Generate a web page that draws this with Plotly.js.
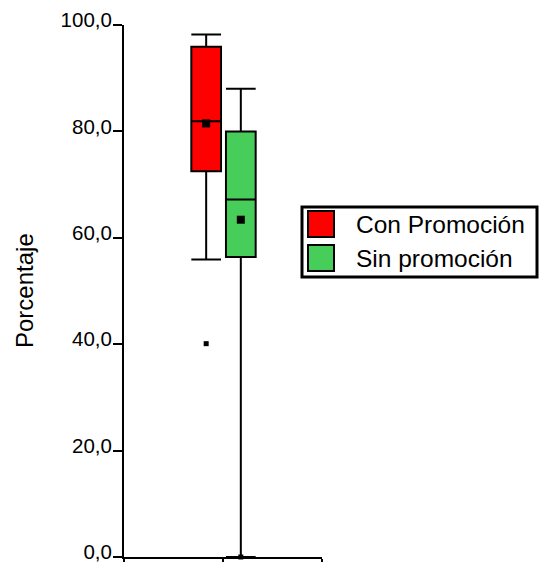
<!DOCTYPE html>
<html>
<head>
<meta charset="utf-8">
<script src="https://cdn.plot.ly/plotly-3.0.1.min.js"></script>
<style>html,body{margin:0;padding:0;background:#fff;}#chart{width:539px;height:562px;}</style>
</head>
<body>
<div id="chart"></div>
<script>
// ---- data ----
var groups = ['Con Promoción', 'Sin promoción'];
var lowerWhisker = [55.9, 0.0];
var q1Values = [72.5, 56.4];
var medianValues = [81.9, 67.2];
var q3Values = [95.9, 80.0];
var upperWhisker = [98.2, 88.0];
var meanValues = [81.5, 63.4];
var outlierValues = [[40.1], [0.0]];
var yTicks = [0, 20, 40, 60, 80, 100];

// ---- styling / layout constants ----
var boxPos = [0.83, 1.18];
var boxWidth = 0.30;
var fills = ['#ff0000', '#47cd5a'];
var FONT = 'Liberation Sans, Arial, sans-serif';

var traces = [];
groups.forEach(function (g, i) {
  traces.push({
    type: 'box',
    name: g,
    x: [boxPos[i]],
    q1: [q1Values[i]],
    median: [medianValues[i]],
    q3: [q3Values[i]],
    lowerfence: [lowerWhisker[i]],
    upperfence: [upperWhisker[i]],
    width: boxWidth,
    whiskerwidth: 1,
    boxpoints: false,
    fillcolor: fills[i],
    line: {color: '#000000', width: 2},
    showlegend: false,
    hoverinfo: 'skip'
  });
});
// means as black squares
traces.push({
  type: 'scatter', mode: 'markers',
  x: boxPos, y: meanValues,
  marker: {symbol: 'square', size: 8, color: '#000'},
  showlegend: false, hoverinfo: 'skip'
});
// outliers
groups.forEach(function (g, i) {
  traces.push({
    type: 'scatter', mode: 'markers',
    x: outlierValues[i].map(function () { return boxPos[i]; }),
    y: outlierValues[i],
    marker: {symbol: 'square', size: 5, color: '#000'},
    showlegend: false, hoverinfo: 'skip', cliponaxis: false
  });
});

// legend drawn in paper coordinates
function px2x(p) { return (p - 124) / 198; }
function px2y(p) { return (557 - p) / 532; }
var shapes = [
  {type: 'rect', xref: 'paper', yref: 'paper', x0: px2x(302), x1: px2x(537), y0: px2y(277), y1: px2y(207),
   line: {color: '#000', width: 3}, fillcolor: '#fff'},
  {type: 'rect', xref: 'paper', yref: 'paper', x0: px2x(308), x1: px2x(334), y0: px2y(237), y1: px2y(211),
   line: {color: '#000', width: 2}, fillcolor: fills[0]},
  {type: 'rect', xref: 'paper', yref: 'paper', x0: px2x(308), x1: px2x(334), y0: px2y(271), y1: px2y(245),
   line: {color: '#000', width: 2}, fillcolor: fills[1]}
];
var annotations = [
  {xref: 'paper', yref: 'paper', x: px2x(354), y: px2y(224), text: groups[0], showarrow: false,
   xanchor: 'left', yanchor: 'middle', font: {family: FONT, size: 24.5, color: '#000'}},
  {xref: 'paper', yref: 'paper', x: px2x(354), y: px2y(258), text: groups[1], showarrow: false,
   xanchor: 'left', yanchor: 'middle', font: {family: FONT, size: 24.5, color: '#000'}},
  {xref: 'paper', yref: 'paper', x: px2x(24), y: px2y(291), text: 'Porcentaje', showarrow: false,
   textangle: -90, xanchor: 'center', yanchor: 'middle', font: {family: FONT, size: 24, color: '#000'}}
];

var layout = {
  width: 539, height: 562,
  margin: {l: 124, r: 217, t: 25, b: 5, pad: 0},
  paper_bgcolor: '#fff', plot_bgcolor: '#fff',
  separators: ',.',
  showlegend: false,
  font: {family: FONT, size: 21, color: '#000'},
  xaxis: {
    range: [0, 2], tickvals: [0, 1, 2], ticktext: ['', '', ''],
    ticks: 'outside', ticklen: 7, tickwidth: 2, tickcolor: '#000',
    showline: true, linewidth: 2, linecolor: '#000',
    showgrid: false, zeroline: false, fixedrange: true
  },
  yaxis: {
    range: [0, 100], tickvals: yTicks, tickformat: '.1f',
    ticks: 'outside', ticklen: 9, tickwidth: 2, tickcolor: '#000',
    showline: true, linewidth: 2, linecolor: '#000',
    showgrid: false, zeroline: false, fixedrange: true,
    ticklabeloverflow: 'allow', ticklabelstandoff: -3, ticklabelshift: -5,
    tickfont: {family: FONT, size: 20.5, color: '#000'}
  },
  shapes: shapes,
  annotations: annotations
};

Plotly.newPlot('chart', traces, layout, {displayModeBar: false, staticPlot: true});
</script>
</body>
</html>
